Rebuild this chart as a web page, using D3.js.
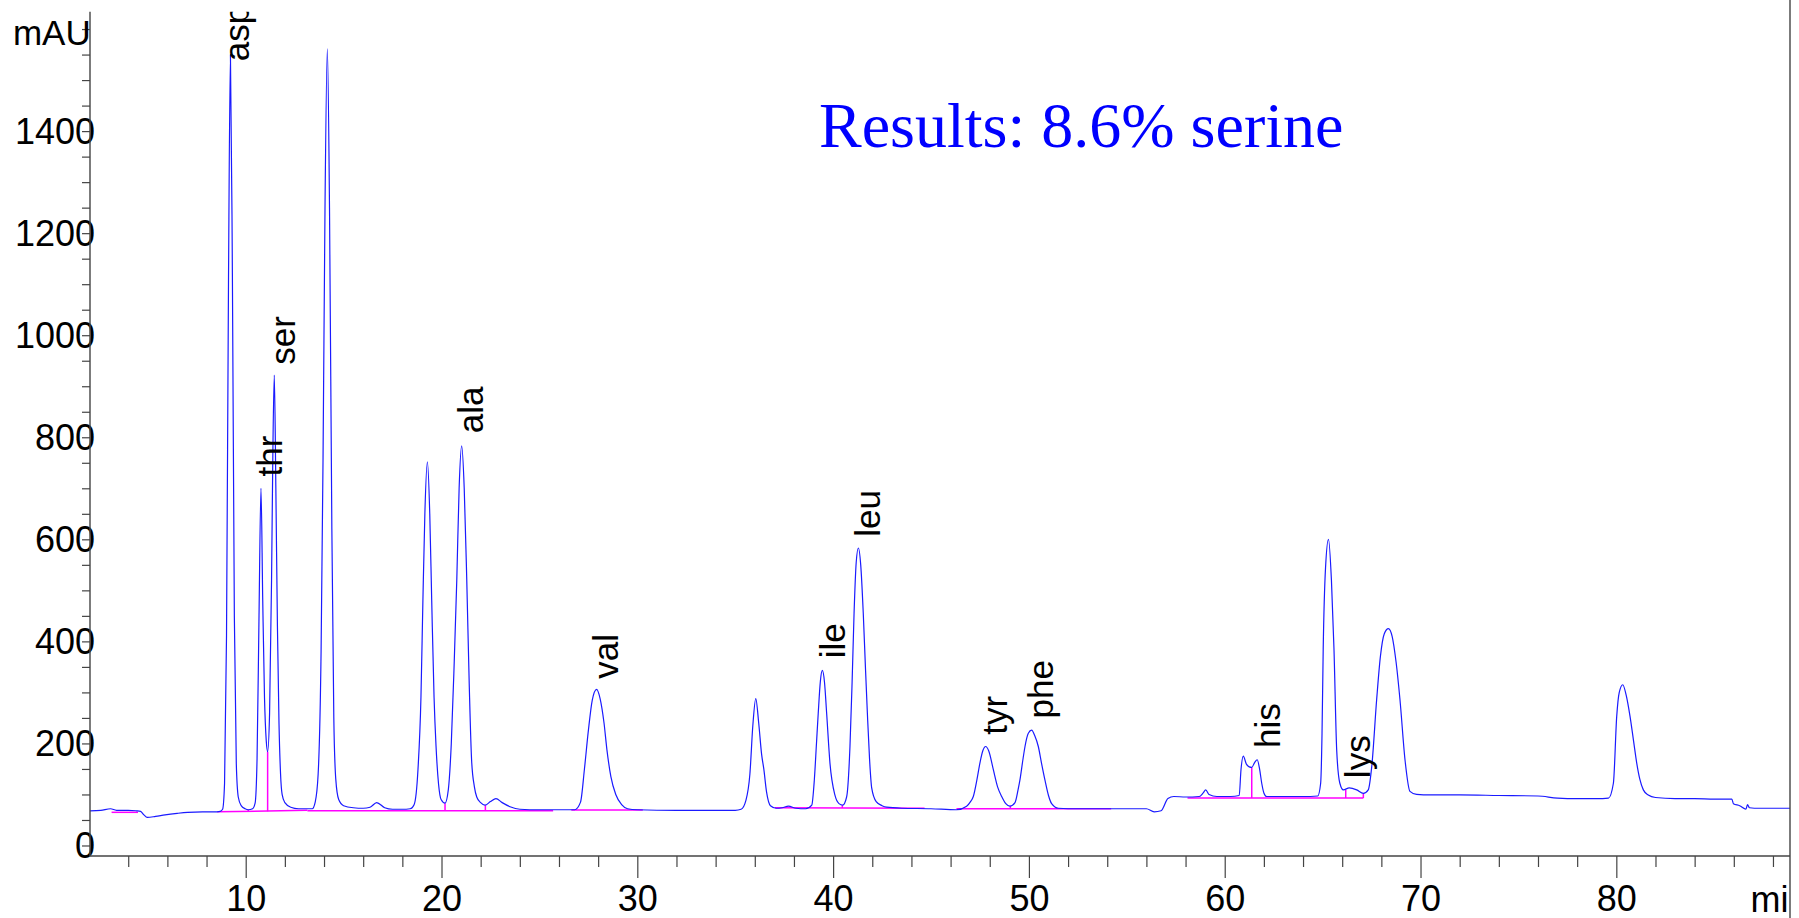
<!DOCTYPE html>
<html>
<head>
<meta charset="utf-8">
<script src="https://cdn.jsdelivr.net/npm/d3@7"></script>
<style>
html, body { margin: 0; padding: 0; background: #fff; }
svg { display: block; }
</style>
</head>
<body>
<svg id="chart" width="1799" height="918"></svg>
<script>
// ---------------- DATA ----------------
// chromatogram trace: [retention time (min), absorbance (mAU)]
const trace = [
  [2.05,68],[2.6,69],[3.1,72],[3.4,69],[4.0,69],[4.4,68],[4.63,67],[4.8,60],[4.97,55],[5.4,57],[5.88,60],[6.5,63],[7.03,65],[7.8,66],[8.38,66],
  [8.7,67],[8.82,71],[8.92,122],[9.02,411],[9.12,1096],[9.22,1550],[9.32,1120],[9.42,450],[9.52,160],[9.62,95],[9.77,78],[9.97,72],[10.13,70],
  [10.35,72],[10.48,83],[10.58,170],[10.68,450],[10.78,700],[10.87,480],[10.96,290],[11.05,205],[11.12,184],
  [11.22,260],[11.32,520],[11.39,780],[11.46,922],[11.54,700],[11.62,430],[11.7,240],[11.78,140],[11.86,100],[12.0,84],[12.3,75],[12.7,72],[13.1,72],
  [13.4,72],[13.55,85],[13.7,140],[13.85,380],[13.95,760],[14.05,1250],[14.17,1561],[14.28,1250],[14.4,620],[14.5,250],[14.6,130],[14.75,90],[15.0,78],[15.5,74],[16.0,73],[16.35,75],[16.69,84],[17.1,74],[17.5,71],[18.0,71],
  [18.4,72],[18.6,80],[18.8,150],[18.95,290],[19.05,480],[19.15,650],[19.28,752],[19.4,650],[19.5,480],[19.62,290],[19.72,195],[19.85,120],[19.98,90],[20.18,83],
  [20.35,110],[20.5,200],[20.65,360],[20.78,520],[20.9,700],[21.03,783],[21.16,700],[21.29,520],[21.42,310],[21.54,165],[21.68,115],[21.8,95],[22.0,84],[22.22,79],[22.5,86],[22.78,92],[23.1,84],[23.5,76],[24.0,71],[25.0,70],[26.0,70],
  [26.8,70],[27.1,85],[27.3,150],[27.5,225],[27.7,285],[27.92,306],[28.1,288],[28.3,240],[28.45,187],[28.65,135],[28.9,100],[29.2,80],[29.5,72],[30.0,70],[32.0,69],[34.0,69],
  [35.0,69],[35.3,71],[35.55,89],[35.75,140],[35.9,235],[36.05,288],[36.2,240],[36.35,178],[36.46,150],[36.6,105],[36.8,78],[37.1,73],[37.4,74],[37.72,77],[38.1,73],[38.6,72],
  [38.91,79],[39.04,128],[39.15,200],[39.24,259],[39.35,322],[39.45,343],[39.56,320],[39.67,259],[39.84,161],[40.09,99],[40.3,82],[40.49,79],[40.69,95],[40.86,193],[40.97,320],[41.07,455],[41.18,555],[41.29,583],[41.41,550],[41.54,455],[41.65,350],[41.75,259],[41.86,170],[41.97,113],[42.2,86],[42.5,78],[42.74,75],[43.5,73],[45.0,72],[46.3,70],
  [46.82,77],[47.0,85],[47.16,96],[47.35,130],[47.5,162],[47.65,186],[47.79,194],[47.95,185],[48.18,149],[48.4,115],[48.61,96],[48.82,82],[49.03,77],[49.29,84],[49.45,110],[49.54,128],[49.7,170],[49.8,194],[49.97,220],[50.14,226],[50.3,215],[50.48,194],[50.65,160],[50.82,128],[51.0,98],[51.16,82],[51.5,73],[52.5,72],[54.0,72],[56.0,72],
  [56.4,66],[56.75,68],[57.1,92],[57.4,96],[58.0,95],[58.7,96],[58.9,103],[59.03,109],[59.2,100],[59.6,96],[60.3,96],[60.74,98],
  [60.83,148],[60.95,175],[61.1,160],[61.25,154],[61.38,153],[61.52,162],[61.66,168],[61.78,150],[61.89,122],[62.0,103],[62.14,96],[63.0,96],[64.0,96],[64.75,97],
  [64.9,122],[64.97,220],[65.03,385],[65.15,545],[65.3,600],[65.45,520],[65.58,385],[65.72,186],[65.88,122],[66.06,109],[66.36,113],[66.74,109],[67.08,102],
  [67.33,109],[67.51,155],[67.76,286],[67.95,370],[68.15,415],[68.36,425],[68.55,410],[68.75,360],[68.95,286],[69.21,167],[69.46,106],[69.8,100],
  [70.5,99],[72.0,99],[74.0,98],[76.0,97],[77.0,93],[78.0,92],[79.0,92],[79.6,93],
  [79.85,122],[80.02,253],[80.15,300],[80.33,315],[80.5,295],[80.7,253],[80.88,205],[81.04,162],[81.2,130],[81.38,109],[81.63,99],[82.0,94],
  [83.0,92],[84.0,92],[85.0,91],[85.9,91],[85.98,82],[86.3,78],[86.62,71],[86.7,80],[86.8,74],[87.3,73],[88.87,73]
];

// integration baselines: [t1, mAU1, t2, mAU2]
const baselineSegments = [
  [3.15,65,4.5,65],
  [8.55,66,13.15,69],
  [13.15,68,25.7,68],
  [26.63,69.6,30.28,69.6],
  [37.03,74,44.67,73],
  [46.3,72,54.2,72],
  [58.1,93,67.08,93]
];

// peak drop lines: [t, mAU top, mAU bottom]
const dropLines = [
  [10.13,70,66],[11.12,184,67],[20.18,83,68],[22.24,79,68],
  [40.47,79,73.5],[49.05,77,72],[61.38,153,93],[66.18,109,93],[67.08,102,93]
];

// peak names and where each rotated label starts (time, mAU)
const peakNames   = ["asp","thr","ser","ala","val","ile","leu","tyr","phe","his","lys"];
const labelTimes  = [10.17,11.84,12.53,22.13,28.99,40.61,42.39,48.87,51.22,62.82,67.42];
const labelValues = [1537,723,942,808,327,367,605,217,249,191,132];

const xMajorTicks = [10,20,30,40,50,60,70,80];
const yMajorTicks = [0,200,400,600,800,1000,1200,1400];
const yUnit = "mAU";
const xUnit = "mi";   // the unit text as visible at the right edge of the reference
const title = "Results: 8.6% serine";

// ---------------- LAYOUT ----------------
const mLeft = 90, mRight = 1790, mTop = 11.7, mBottom = 856;
const xDomain = [2.048, 88.87];
const yDomain = [-20.6, 1634];

const svg = d3.select("#chart");
const x = d3.scaleLinear().domain(xDomain).range([mLeft, mRight]);
const y = d3.scaleLinear().domain(yDomain).range([mBottom, mTop]);

const sans = "'Liberation Sans', Arial, sans-serif";

const defs = svg.append("defs");
defs.append("clipPath").attr("id", "plotclip")
  .append("rect").attr("x", mLeft).attr("y", mTop).attr("width", mRight - mLeft).attr("height", mBottom - mTop);

const plot = svg.append("g").attr("clip-path", "url(#plotclip)");

// baselines (magenta)
plot.selectAll("line.base").data(baselineSegments).join("line")
  .attr("class", "base")
  .attr("x1", d => x(d[0])).attr("y1", d => y(d[1]))
  .attr("x2", d => x(d[2])).attr("y2", d => y(d[3]))
  .attr("stroke", "#ff00ff").attr("stroke-width", 1.5);
plot.selectAll("line.drop").data(dropLines).join("line")
  .attr("class", "drop")
  .attr("x1", d => x(d[0])).attr("y1", d => y(d[1]))
  .attr("x2", d => x(d[0])).attr("y2", d => y(d[2]))
  .attr("stroke", "#ff00ff").attr("stroke-width", 1.5);

// trace
const line = d3.line().x(d => x(d[0])).y(d => y(d[1])).curve(d3.curveMonotoneX);
plot.append("path").datum(trace)
  .attr("d", line).attr("fill", "none")
  .attr("stroke", "#1a1aff").attr("stroke-width", 1.2);

// peak labels
plot.selectAll("text.peak").data(peakNames).join("text")
  .attr("class", "peak")
  .attr("transform", (d, i) => `translate(${x(labelTimes[i])},${y(labelValues[i])}) rotate(-90)`)
  .attr("font-family", sans).attr("font-size", 35).attr("fill", "#000")
  .text(d => d);

// axes
const axisColor = "#444";
const xAxisMinor = d3.axisBottom(x).tickValues(d3.range(4, 89, 2).filter(v => v % 10 !== 0))
  .tickSize(11).tickFormat("");
svg.append("g").attr("transform", `translate(0,${mBottom})`).call(xAxisMinor)
  .call(g => g.select(".domain").remove())
  .call(g => g.selectAll("line").attr("stroke", axisColor).attr("stroke-width", 1.2));
const xAxisMajor = d3.axisBottom(x).tickValues(xMajorTicks).tickSize(22).tickPadding(7).tickFormat(d3.format("d"));
svg.append("g").attr("transform", `translate(0,${mBottom})`).call(xAxisMajor)
  .call(g => g.select(".domain").remove())
  .call(g => g.selectAll("line").attr("stroke", axisColor).attr("stroke-width", 1.2))
  .call(g => g.selectAll("text").attr("font-family", sans).attr("font-size", 36).attr("fill", "#000")
      .attr("dy", null).attr("y", 55));

const yAxis = d3.axisLeft(y).tickValues(d3.range(0, 1601, 50)).tickSize(8).tickFormat("");
svg.append("g").attr("transform", `translate(${mLeft},0)`).call(yAxis)
  .call(g => g.select(".domain").remove())
  .call(g => g.selectAll("line").attr("stroke", axisColor).attr("stroke-width", 1.2));

svg.append("g").selectAll("text").data(yMajorTicks).join("text")
  .attr("x", 95).attr("y", d => y(d) + 12.8)
  .attr("text-anchor", "end")
  .attr("font-family", sans).attr("font-size", 36).attr("fill", "#000")
  .text(d => d);

// axis lines
svg.append("line").attr("x1", mLeft).attr("x2", mLeft).attr("y1", mTop).attr("y2", mBottom)
  .attr("stroke", axisColor).attr("stroke-width", 1.4);
svg.append("line").attr("x1", mLeft).attr("x2", mRight).attr("y1", mBottom).attr("y2", mBottom)
  .attr("stroke", axisColor).attr("stroke-width", 1.4);
svg.append("line").attr("x1", mRight).attr("x2", mRight).attr("y1", 0).attr("y2", 918)
  .attr("stroke", axisColor).attr("stroke-width", 1.4);

// units
svg.append("text").attr("x", 90.7).attr("y", 45).attr("text-anchor", "end")
  .attr("font-family", sans).attr("font-size", 35).attr("fill", "#000").text(yUnit);
svg.append("text").attr("x", 1788.5).attr("y", 911.5).attr("text-anchor", "end")
  .attr("font-family", sans).attr("font-size", 36).attr("fill", "#000").text(xUnit);

// title
svg.append("text").attr("x", 819).attr("y", 147)
  .attr("font-family", "'Liberation Serif', 'Times New Roman', serif")
  .attr("font-size", 64).attr("fill", "#0000ff").text(title);
</script>
</body>
</html>
